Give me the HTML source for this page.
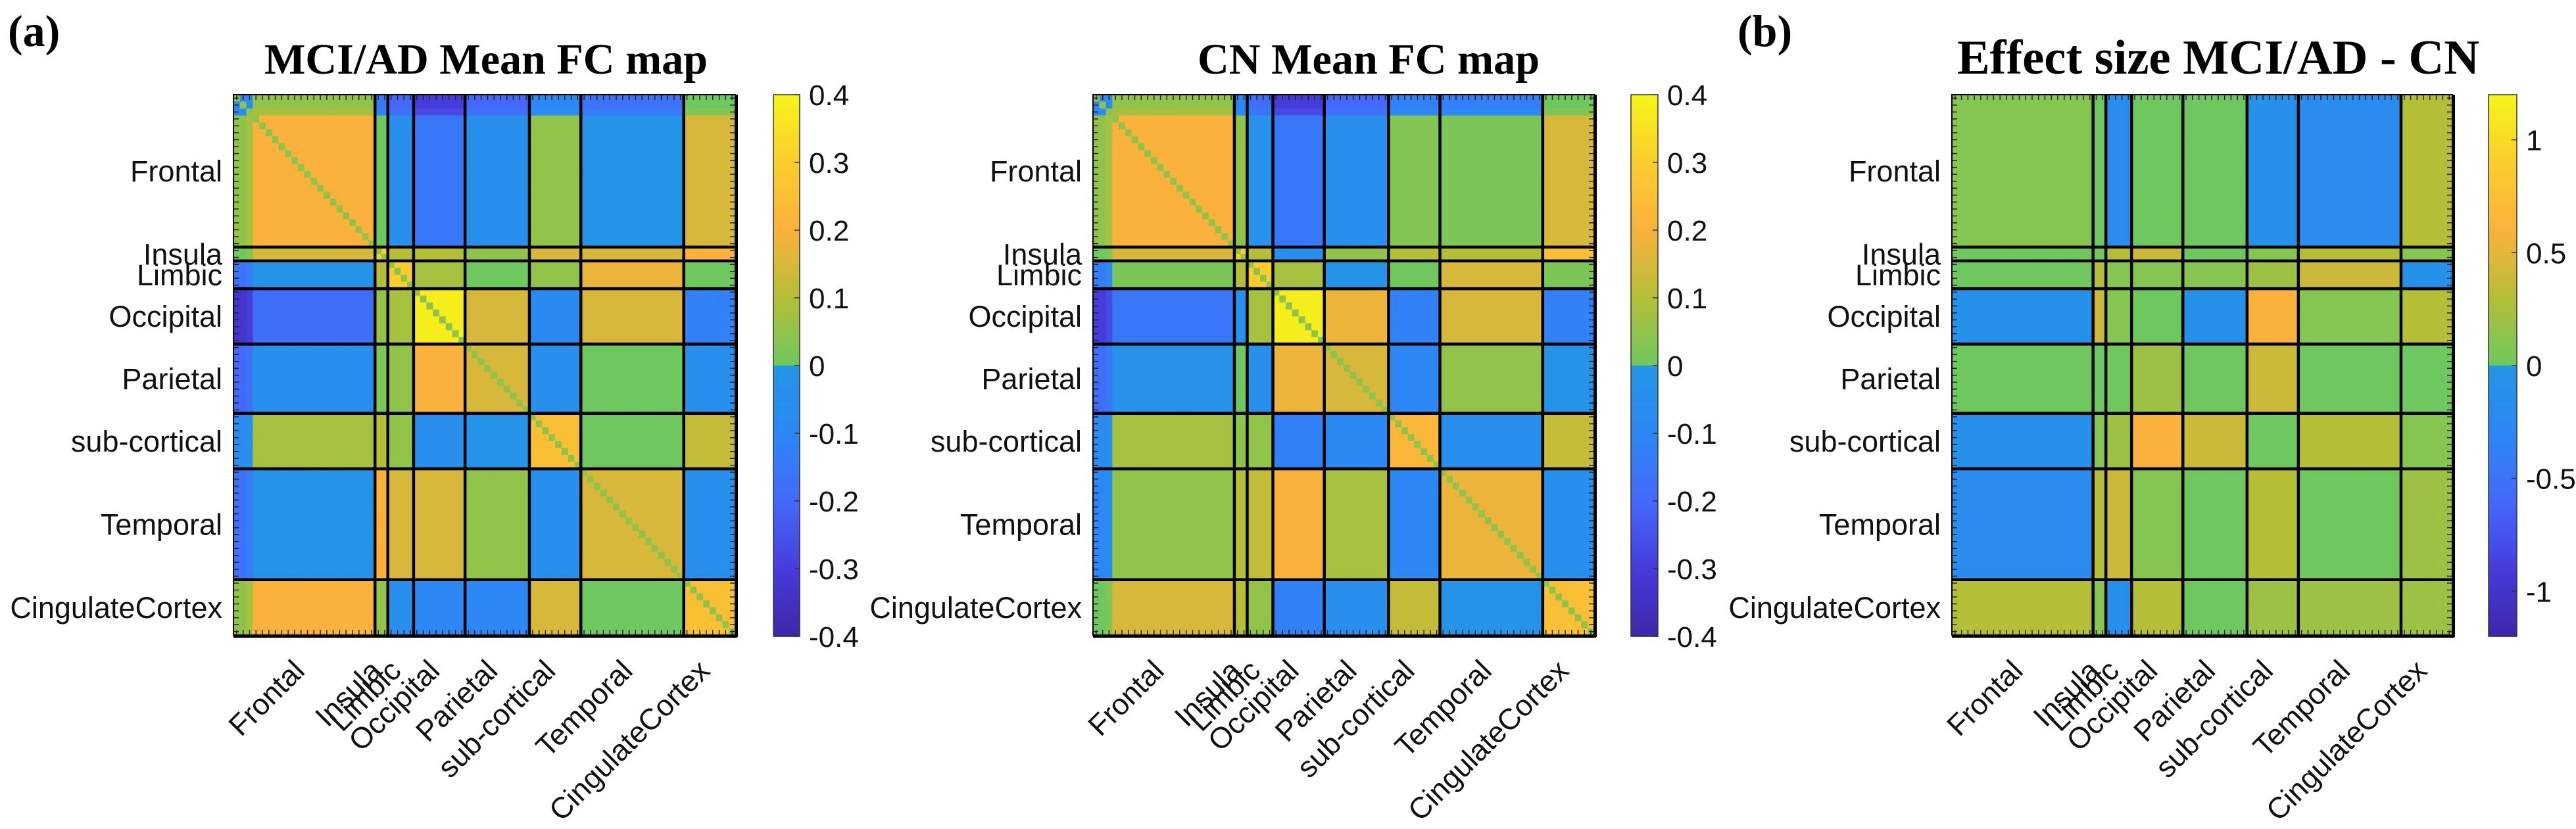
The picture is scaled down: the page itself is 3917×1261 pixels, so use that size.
<!DOCTYPE html>
<html><head><meta charset="utf-8"><style>
html,body{margin:0;padding:0;background:#fff}
svg{display:block}
</style></head><body>
<svg id="fig" xmlns="http://www.w3.org/2000/svg" width="3917" height="1261" viewBox="0 0 3917 1261">
<rect x="0" y="0" width="3917" height="1261" fill="#fff"/>
<text x="12" y="70" font-family="Liberation Serif, serif" font-weight="bold" font-size="68">(a)</text>
<text x="2642" y="70" font-family="Liberation Serif, serif" font-weight="bold" font-size="68">(b)</text>
<text x="739" y="112" text-anchor="middle" font-family="Liberation Serif, serif" font-weight="bold" font-size="66" textLength="674" lengthAdjust="spacingAndGlyphs">MCI/AD Mean FC map</text>
<text x="2081" y="112" text-anchor="middle" font-family="Liberation Serif, serif" font-weight="bold" font-size="66" textLength="520" lengthAdjust="spacingAndGlyphs">CN Mean FC map</text>
<text x="3373" y="112" text-anchor="middle" font-family="Liberation Serif, serif" font-weight="bold" font-size="74" textLength="794" lengthAdjust="spacingAndGlyphs">Effect size MCI/AD - CN</text>
<g id="plots"></g>
</svg>
<script>
// ---- data ----
const groups = ["Frontal","Insula","Limbic","Occipital","Parietal","sub-cortical","Temporal","CingulateCortex"];
const groupSizes = [22,2,4,8,10,8,16,8];
const blocksMCI = [
 [0.20,0.00,-0.05,-0.15,-0.05,0.05,-0.02,0.15],
 [0.15,0.30,0.10,0.10,0.05,0.15,0.15,0.20],
 [-0.02,0.10,0.30,0.08,0.00,0.05,0.18,0.00],
 [-0.18,0.05,0.08,0.38,0.15,-0.08,0.15,-0.12],
 [-0.05,0.02,0.05,0.20,0.15,-0.05,0.00,-0.05],
 [0.08,0.10,0.05,-0.05,-0.02,0.25,0.00,0.12],
 [-0.02,0.20,0.15,0.15,0.05,-0.05,0.15,-0.05],
 [0.20,0.05,-0.05,-0.10,-0.10,0.15,0.00,0.25]];
const blocksCN = [
 [0.20,0.05,-0.03,-0.15,-0.05,0.03,0.02,0.15],
 [0.15,0.30,0.10,-0.05,0.05,0.10,0.10,0.25],
 [0.02,0.10,0.30,0.08,-0.02,0.00,0.15,0.02],
 [-0.15,-0.05,0.08,0.38,0.18,-0.12,0.15,-0.12],
 [-0.03,0.00,-0.05,0.18,0.15,-0.10,0.05,-0.02],
 [0.08,0.05,0.05,-0.12,-0.08,0.22,-0.05,0.12],
 [0.05,0.10,0.12,0.20,0.08,-0.10,0.18,-0.05],
 [0.15,0.10,0.05,-0.12,-0.05,0.12,-0.02,0.25]];
const blocksEffect = [
 [0.10,0.00,-0.20,0.00,0.00,-0.10,-0.20,0.30],
 [0.00,0.00,0.30,0.40,0.00,0.10,0.30,0.10],
 [0.00,0.30,0.10,0.10,0.10,0.20,0.40,-0.10],
 [-0.10,0.40,0.10,0.00,-0.10,0.60,0.10,0.30],
 [0.00,0.00,0.00,0.20,0.00,0.40,0.00,0.00],
 [-0.10,0.10,0.20,0.60,0.40,0.00,0.30,0.10],
 [-0.20,0.30,0.40,0.10,0.00,0.30,0.00,0.20],
 [0.30,0.10,-0.10,0.30,0.00,0.20,0.20,0.20]];
// per-node offsets (frontal nodes 0-2 weakly connected in both FC maps)
const nodeOffsetFC = [-0.15,-0.15,-0.12,0,0,0,0,0,0,0,0,0,0,0,0,0,0,0,0,0,0,0,
 0,0, 0,0,0,0, 0,0,0,0,0,0,0,0, 0,0,0,0,0,0,0,0,0,0, 0,0,0,0,0,0,0,0,
 0,0,0,0,0,0,0,0,0,0,0,0,0,0,0,0, 0,0,0,0,0,0,0,0];
const diagValues = [0.05, 0.05, null];
const cbTicksFC = [0.4,0.3,0.2,0.1,0,-0.1,-0.2,-0.3,-0.4];
const cbLabelsFC = ["0.4","0.3","0.2","0.1","0","-0.1","-0.2","-0.3","-0.4"];
const cbTicksEff = [1,0.5,0,-0.5,-1];
const cbLabelsEff = ["1","0.5","0","-0.5","-1"];

// ---- layout ----
const NS="http://www.w3.org/2000/svg";
const N = groupSizes.reduce((a,b)=>a+b,0);
const Y0=144, H=822;
const panels=[
 {x0:355,w:763,cb:1176,cbw:40,max:0.4,blocks:blocksMCI,off:nodeOffsetFC,diag:diagValues[0],ticks:cbTicksFC,labels:cbLabelsFC,name:"mci-ad"},
 {x0:1662,w:762,cb:2480,cbw:41,max:0.4,blocks:blocksCN,off:nodeOffsetFC,diag:diagValues[1],ticks:cbTicksFC,labels:cbLabelsFC,name:"cn"},
 {x0:2968,w:761,cb:3784,cbw:43,max:1.2,blocks:blocksEffect,off:null,diag:diagValues[2],ticks:cbTicksEff,labels:cbLabelsEff,name:"effect-size"}];
const negStops=[[-1,[62,38,168]],[-0.75,[70,60,220]],[-0.5,[68,105,250]],[-0.25,[45,135,245]],[0,[35,150,228]]];
const posStops=[[0,[110,200,95]],[0.25,[180,190,55]],[0.5,[250,178,60]],[0.75,[250,205,45]],[1,[245,245,25]]];
function interp(st,t){for(let i=0;i<st.length-1;i++){if(t>=st[i][0]&&t<=st[i+1][0]){const f=(t-st[i][0])/(st[i+1][0]-st[i][0]);const a=st[i][1],b=st[i+1][1];return "rgb("+a.map((v,k)=>Math.round(v+(b[k]-v)*f)).join(",")+")";}}return "rgb("+st[st.length-1][1].join(",")+")";}
function color(v,max){let t=Math.max(-1,Math.min(1,v/max));return t<0?interp(negStops,t):interp(posStops,t);}
function mk(tag,attrs,parent){const e=document.createElementNS(NS,tag);for(const k in attrs)e.setAttribute(k,attrs[k]);parent.appendChild(e);return e;}
const groupOf=[];groupSizes.forEach((s,g)=>{for(let i=0;i<s;i++)groupOf.push(g);});
const starts=[];let acc=0;groupSizes.forEach(s=>{starts.push(acc);acc+=s;});
const root=document.getElementById("plots");
const FONT="Liberation Sans, Arial, sans-serif";

panels.forEach(p=>{
 const g=mk("g",{},root);
 
 
 const cw=p.w/N, ch=H/N;
 const xs=i=>p.x0+i*cw, ys=i=>Y0+i*ch;
 for(let r=0;r<N;r++)for(let c=0;c<N;c++){
  let v=p.blocks[groupOf[r]][groupOf[c]];
  if(p.off)v+=p.off[r]+p.off[c];
  if(r===c&&p.diag!==null)v=p.diag;
  const e=mk("rect",{x:xs(c).toFixed(2),y:ys(r).toFixed(2),width:(cw+0.6).toFixed(2),height:(ch+0.6).toFixed(2),fill:color(v,p.max)},g);
  
  
 }
 const tg=mk("g",{stroke:"#222","stroke-width":1.5},g);
 
 
 for(let i=0;i<N;i++){
  const cx=xs(i+0.5), cy=ys(i+0.5);
  mk("line",{x1:cx,y1:Y0,x2:cx,y2:Y0+8},tg);
  mk("line",{x1:cx,y1:Y0+H,x2:cx,y2:Y0+H-8},tg);
  mk("line",{x1:p.x0,y1:cy,x2:p.x0+8,y2:cy},tg);
  mk("line",{x1:p.x0+p.w,y1:cy,x2:p.x0+p.w-8,y2:cy},tg);
 }
 for(let k=1;k<starts.length;k++){
  const b=starts[k];
  const lv=mk("line",{x1:xs(b),y1:Y0,x2:xs(b),y2:Y0+H,stroke:"#000","stroke-width":4.5},g);
  
  
  const lh=mk("line",{x1:p.x0,y1:ys(b),x2:p.x0+p.w,y2:ys(b),stroke:"#000","stroke-width":4.5},g);
  
  
 }
 const box=mk("rect",{x:p.x0,y:Y0,width:p.w,height:H,fill:"none",stroke:"#000","stroke-width":2},g);
 
 
 mk("line",{x1:p.x0,y1:Y0+H+2,x2:p.x0+p.w+3,y2:Y0+H+2,stroke:"#000","stroke-width":4},g);
 mk("line",{x1:p.x0+p.w+2,y1:Y0,x2:p.x0+p.w+2,y2:Y0+H+3,stroke:"#000","stroke-width":4},g);
 groups.forEach((name,k)=>{
  const mid=starts[k]+groupSizes[k]/2;
  const yl=mk("text",{x:p.x0-17,y:ys(mid)+16,"text-anchor":"end","font-family":FONT,"font-size":45,fill:"#111"},g);
  yl.textContent=name;
  
  
  const ax=xs(mid)+3, ay=1023;
  const xl=mk("text",{x:ax,y:ay,"text-anchor":"end","font-family":FONT,"font-size":45,fill:"#111",transform:"rotate(-45 "+ax+" "+ay+")"},g);
  xl.textContent=name;
  
  
 });
 const cbg=mk("g",{},g);
 
 
 const CBH=824, steps=206;
 for(let s=0;s<steps;s++){
  const v=p.max-(s+0.5)/steps*2*p.max;
  mk("rect",{x:p.cb,y:(Y0+s*CBH/steps).toFixed(2),width:p.cbw,height:(CBH/steps+0.6).toFixed(2),fill:color(v,p.max)},cbg);
 }
 mk("rect",{x:p.cb,y:Y0,width:p.cbw,height:CBH,fill:"none",stroke:"#333","stroke-width":1.5},cbg);
 const cy=v=>Y0+(p.max-v)/(2*p.max)*CBH;
 p.ticks.forEach((t,i)=>{
  mk("line",{x1:p.cb+p.cbw-8,y1:cy(t),x2:p.cb+p.cbw,y2:cy(t),stroke:"#333","stroke-width":1.5},cbg);
  const tl=mk("text",{x:p.cb+p.cbw+14,y:cy(t)+16,"font-family":FONT,"font-size":44,fill:"#111"},cbg);
  tl.textContent=p.labels[i];
  
  
 });
});
</script>
</body></html>
